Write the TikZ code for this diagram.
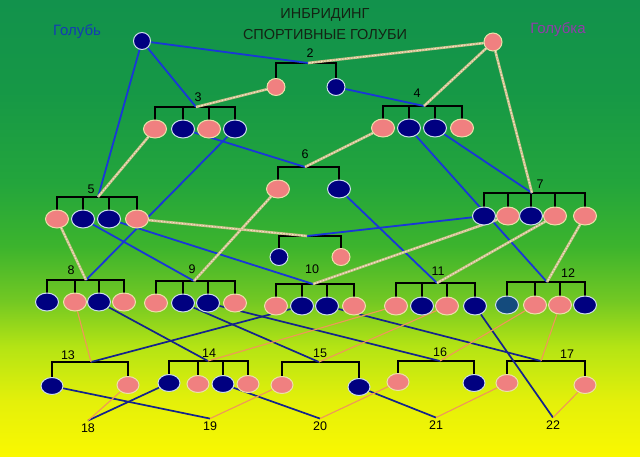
\documentclass[tikz,border=0pt]{standalone}
\usepackage{fontspec}
\setmainfont{Liberation Sans}
\usetikzlibrary{shapes.geometric}
\definecolor{skygreen}{RGB}{18,146,76}
\definecolor{grassgreen}{RGB}{22,152,70}
\definecolor{leafgreen}{RGB}{35,165,60}
\definecolor{midgreen}{RGB}{60,180,45}
\definecolor{limegreen}{RGB}{115,200,35}
\definecolor{yellowgreen}{RGB}{180,228,20}
\definecolor{paleyellow}{RGB}{228,240,10}
\definecolor{sunyellow}{RGB}{250,248,0}
\definecolor{henpink}{RGB}{240,128,128}
\definecolor{henrim}{RGB}{235,225,170}
\definecolor{cocknavy}{RGB}{0,0,128}
\definecolor{cockteal}{RGB}{20,75,125}
\definecolor{cockrim}{RGB}{205,222,235}
\definecolor{sireblue}{RGB}{25,55,215}
\definecolor{lowblue}{RGB}{20,35,140}
\definecolor{damtan}{RGB}{205,190,140}
\definecolor{damlight}{RGB}{240,232,200}
\definecolor{loworange}{RGB}{240,150,90}
\definecolor{titlecol}{RGB}{20,35,20}
\definecolor{cockword}{RGB}{20,60,180}
\definecolor{henword}{RGB}{145,60,170}
\pgfdeclareverticalshading{meadow}{100bp}{color(0bp)=(sunyellow); color(25bp)=(sunyellow);
  color(31bp)=(paleyellow); color(37bp)=(yellowgreen); color(42bp)=(limegreen);
  color(48bp)=(midgreen); color(55bp)=(leafgreen); color(65bp)=(grassgreen);
  color(75bp)=(skygreen); color(100bp)=(skygreen)}
\pgfdeclarelayer{back}
\pgfdeclarelayer{links}
\pgfsetlayers{back,links,main}
\tikzset{hen/.style={ellipse,draw=henrim,fill=henpink,line width=1pt,
           minimum width=23pt,minimum height=18pt,inner sep=0pt},
         cock/.style={ellipse,draw=cockrim,fill=cocknavy,line width=1pt,
           minimum width=23pt,minimum height=18pt,inner sep=0pt},
         small/.style={minimum width=18pt,minimum height=17pt},
         low/.style={minimum width=22pt,minimum height=17pt},
         bar/.style={draw=black,line width=1.8pt,line cap=rect},
         sireline/.style={draw=sireblue,line width=1.8pt},
         damline/.style={draw=damtan,line width=2.6pt,
           postaction={draw=damlight,line width=1pt,dash pattern=on 1.5pt off 1.5pt}},
         sirelow/.style={draw=lowblue,line width=1.7pt},
         damlow/.style={draw=loworange,line width=1.1pt},
         num/.style={font=\fontsize{12.5}{14}\selectfont,anchor=base,inner sep=2.5pt},
         title/.style={font=\fontsize{14.5}{17}\selectfont,text=titlecol,anchor=base}}

\begin{document}
\begin{tikzpicture}[x=1pt,y=-1pt]
\useasboundingbox (0,0) rectangle (640,456);
\begin{pgfonlayer}{back}
\shade[shading=meadow] (0,0) rectangle (640,456);
\end{pgfonlayer}

\node[title] (head1) at (325,18) {ИНБРИДИНГ};
\node[title] (head2) at (325,39) {СПОРТИВНЫЕ ГОЛУБИ};
\node[title,text=cockword,font=\fontsize{15}{17}\selectfont] (cockname) at (77,35) {Голубь};
\node[title,text=henword,font=\fontsize{15}{17}\selectfont] (henname) at (558,33) {Голубка};

\node[cock,minimum width=17pt,minimum height=17pt] (gsire) at (142,41) {};
\node[hen,minimum width=18pt,minimum height=18pt] (gdam) at (493,42) {};

% row 2
\coordinate (c2) at (308,63);
\node[num] (l2) at (310,57) {2};
\node[hen,small] (p2a) at (276,87) {};
\node[cock,small] (p2b) at (336,87) {};

% row 3
\coordinate (c3) at (196,107);
\node[num] (l3) at (198,101) {3};
\node[hen] (p3a) at (155,129) {};
\node[cock] (p3b) at (183,129) {};
\node[hen] (p3c) at (209,129) {};
\node[cock] (p3d) at (235,129) {};
\coordinate (c4) at (424,106);
\node[num] (l4) at (417,97) {4};
\node[hen] (p4a) at (383,128) {};
\node[cock] (p4b) at (409,128) {};
\node[cock] (p4c) at (435,128) {};
\node[hen] (p4d) at (462,128) {};

% row 4
\coordinate (c5) at (98,197);
\node[num] (l5) at (91,193) {5};
\node[hen] (p5a) at (57,219) {};
\node[cock] (p5b) at (83,219) {};
\node[cock] (p5c) at (109,219) {};
\node[hen] (p5d) at (137,219) {};
\coordinate (c6) at (305,167);
\node[num] (l6) at (305,158) {6};
\node[hen] (p6a) at (278,189) {};
\node[cock] (p6b) at (339,189) {};
\coordinate (c7) at (532,193);
\node[num] (l7) at (540,188) {7};
\node[cock] (p7a) at (484,216) {};
\node[hen] (p7b) at (508,216) {};
\node[cock] (p7c) at (531,216) {};
\node[hen] (p7d) at (555,216) {};
\node[hen] (p7e) at (585,216) {};
\coordinate (cmid) at (307,236);
\node[cock,small] (pma) at (279,257) {};
\node[hen,small] (pmb) at (341,257) {};

% row 5
\coordinate (c8) at (86,280);
\node[num] (l8) at (71,274) {8};
\node[cock] (p8a) at (47,302) {};
\node[hen] (p8b) at (75,302) {};
\node[cock] (p8c) at (99,302) {};
\node[hen] (p8d) at (124,302) {};
\coordinate (c9) at (194,281);
\node[num] (l9) at (192,273) {9};
\node[hen] (p9a) at (156,303) {};
\node[cock] (p9b) at (183,303) {};
\node[cock] (p9c) at (208,303) {};
\node[hen] (p9d) at (235,303) {};
\coordinate (c10) at (313,284);
\node[num] (l10) at (312,273) {10};
\node[hen] (p10a) at (276,306) {};
\node[cock] (p10b) at (302,306) {};
\node[cock] (p10c) at (327,306) {};
\node[hen] (p10d) at (354,306) {};
\coordinate (c11) at (437,283);
\node[num] (l11) at (438,275) {11};
\node[hen] (p11a) at (396,306) {};
\node[cock] (p11b) at (422,306) {};
\node[hen] (p11c) at (447,306) {};
\node[cock] (p11d) at (475,306) {};
\coordinate (c12) at (547,282);
\node[num] (l12) at (568,277) {12};
\node[cock,fill=cockteal] (p12a) at (507,305) {};
\node[hen] (p12b) at (535,305) {};
\node[hen] (p12c) at (560,305) {};
\node[cock] (p12d) at (585,305) {};

% row 6
\coordinate (c13) at (91,362);
\node[num] (l13) at (68,359) {13};
\node[cock,low] (p13a) at (52,386) {};
\node[hen,low] (p13b) at (128,385) {};
\coordinate (c14) at (208,361);
\node[num] (l14) at (209,357) {14};
\node[cock,low] (p14a) at (169,383) {};
\node[hen,low] (p14b) at (198,384) {};
\node[cock,low] (p14c) at (223,384) {};
\node[hen,low] (p14d) at (248,384) {};
\coordinate (c15) at (319,362);
\node[num] (l15) at (320,357) {15};
\node[hen,low] (p15a) at (282,385) {};
\node[cock,low] (p15b) at (359,387) {};
\coordinate (c16) at (440,361);
\node[num] (l16) at (440,356) {16};
\node[hen,low] (p16a) at (398,382) {};
\node[cock,low] (p16b) at (474,383) {};
\coordinate (c17) at (541,361);
\node[num] (l17) at (567,358) {17};
\node[hen,low] (p17a) at (507,383) {};
\node[hen,low] (p17b) at (585,385) {};

% row 7
\node[num] (n18) at (88,432) {18};
\node[num] (n19) at (210,430) {19};
\node[num] (n20) at (320,430) {20};
\node[num] (n21) at (436,429) {21};
\node[num] (n22) at (553,429) {22};

\begin{pgfonlayer}{links}
\draw[bar] (p2a.north) |- (c2) -| (p2b.north);
\draw[bar] (p3a.north) |- (c3) -| (p3d.north);
\draw[bar] (p3b.north) -- (p3b.north |- c3);
\draw[bar] (p3c.north) -- (p3c.north |- c3);
\draw[bar] (p4a.north) |- (c4) -| (p4d.north);
\draw[bar] (p4b.north) -- (p4b.north |- c4);
\draw[bar] (p4c.north) -- (p4c.north |- c4);
\draw[bar] (p5a.north) |- (c5) -| (p5d.north);
\draw[bar] (p5b.north) -- (p5b.north |- c5);
\draw[bar] (p5c.north) -- (p5c.north |- c5);
\draw[bar] (p6a.north) |- (c6) -| (p6b.north);
\draw[bar] (p7a.north) |- (c7) -| (p7e.north);
\draw[bar] (p7b.north) -- (p7b.north |- c7);
\draw[bar] (p7c.north) -- (p7c.north |- c7);
\draw[bar] (p7d.north) -- (p7d.north |- c7);
\draw[bar] (pma.north) |- (cmid) -| (pmb.north);
\draw[bar] (p8a.north) |- (c8) -| (p8d.north);
\draw[bar] (p8b.north) -- (p8b.north |- c8);
\draw[bar] (p8c.north) -- (p8c.north |- c8);
\draw[bar] (p9a.north) |- (c9) -| (p9d.north);
\draw[bar] (p9b.north) -- (p9b.north |- c9);
\draw[bar] (p9c.north) -- (p9c.north |- c9);
\draw[bar] (p10a.north) |- (c10) -| (p10d.north);
\draw[bar] (p10b.north) -- (p10b.north |- c10);
\draw[bar] (p10c.north) -- (p10c.north |- c10);
\draw[bar] (p11a.north) |- (c11) -| (p11d.north);
\draw[bar] (p11b.north) -- (p11b.north |- c11);
\draw[bar] (p11c.north) -- (p11c.north |- c11);
\draw[bar] (p12a.north) |- (c12) -| (p12d.north);
\draw[bar] (p12b.north) -- (p12b.north |- c12);
\draw[bar] (p12c.north) -- (p12c.north |- c12);
\draw[bar] (p13a.north) |- (c13) -| (p13b.north);
\draw[bar] (p14a.north) |- (c14) -| (p14d.north);
\draw[bar] (p14b.north) -- (p14b.north |- c14);
\draw[bar] (p14c.north) -- (p14c.north |- c14);
\draw[bar] (p15a.north) |- (c15) -| (p15b.north);
\draw[bar] (p16a.north) |- (c16) -| (p16b.north);
\draw[bar] (p17a.north) |- (c17) -| (p17b.north);

% cocks
\draw[sireline] (gsire) -- (c2);
\draw[sireline] (gsire) -- (c3);
\draw[sireline] (gsire) -- (c5);
\draw[sireline] (p2b) -- (c4);
\draw[sireline] (p3b) -- (c6);
\draw[sireline] (p3d) -- (c8);
\draw[sireline] (p4b) -- (c12);
\draw[sireline] (p4c) -- (c7);
\draw[sireline] (p5b) -- (c9);
\draw[sireline] (p5c) -- (c10);
\draw[sireline] (p6b) -- (c11);
\draw[sireline] (p7a) -- (cmid);
\draw[sirelow] (p8c) -- (c14);
\draw[sirelow] (p9b) -- (c15);
\draw[sirelow] (p9c) -- (c16);
\draw[sirelow] (p10b) -- (c13);
\draw[sirelow] (p10c) -- (c17);
\draw[sirelow] (p11d) -- (n22.north);
\draw[sirelow] (p13a) -- (n19.north);
\draw[sirelow] (p14a) -- (n18.north);
\draw[sirelow] (p14c) -- (n20.north);
\draw[sirelow] (p15b) -- (n21.north);

% hens
\draw[damline] (gdam) -- (c2);
\draw[damline] (gdam) -- (c4);
\draw[damline] (gdam) -- (c7);
\draw[damline] (p2a) -- (c3);
\draw[damline] (p3a) -- (c5);
\draw[damline] (p4a) -- (c6);
\draw[damline] (p5a) -- (c8);
\draw[damline] (p5d) -- (cmid);
\draw[damline] (p6a) -- (c9);
\draw[damline] (p7b) -- (c10);
\draw[damline] (p7d) -- (c11);
\draw[damline] (p7e) -- (c12);
\draw[damlow] (p8b) -- (c13);
\draw[damlow] (p11a) -- (c14);
\draw[damlow] (p11c) -- (c15);
\draw[damlow] (p12b) -- (c16);
\draw[damlow] (p12c) -- (c17);
\draw[damlow] (p13b) -- (n18.north);
\draw[damlow] (p15a) -- (n19.north);
\draw[damlow] (p16a) -- (n20.north);
\draw[damlow] (p17a) -- (n21.north);
\draw[damlow] (p17b) -- (n22.north);
\end{pgfonlayer}
\end{tikzpicture}
\end{document}
